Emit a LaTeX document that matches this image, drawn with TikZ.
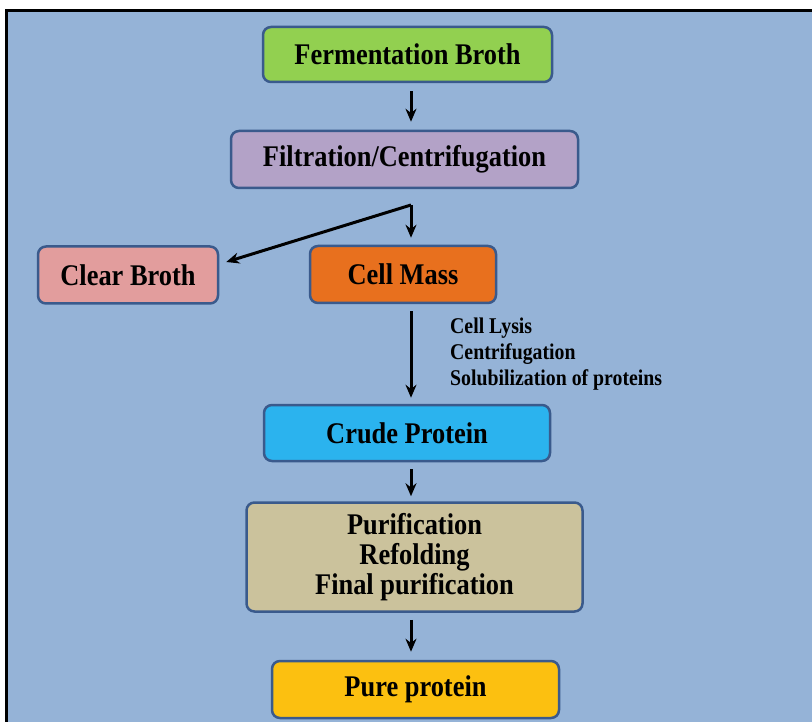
\documentclass[tikz,border=0pt]{standalone}
\usepackage{fontspec}
\setmainfont{Liberation Serif}[FakeStretch=0.88]
\usetikzlibrary{arrows.meta}
\definecolor{bgblue}{HTML}{95B3D7}
\definecolor{bordc}{HTML}{3A5A8C}
\definecolor{cgreen}{HTML}{92D050}
\definecolor{clilac}{HTML}{B3A2C7}
\definecolor{cpink}{HTML}{E29D9D}
\definecolor{corange}{HTML}{E8701E}
\definecolor{ccyan}{HTML}{2BB3EE}
\definecolor{ctan}{HTML}{CBC29C}
\definecolor{cyellow}{HTML}{FCC010}
\tikzset{
  box/.style={draw=bordc, line width=2.5pt, rounded corners=8pt, inner sep=0pt,
    font=\fontsize{30}{30}\selectfont\bfseries, text=black, align=center},
  arr/.style={draw=black, line width=3pt, -{Stealth[length=13pt,width=11pt]}},
  lbl/.style={font=\fontsize{22.5}{26}\selectfont\bfseries, align=left, inner sep=0pt, text=black}
}
\begin{document}
\begin{tikzpicture}[x=1pt,y=-1pt]
\useasboundingbox (0,0) rectangle (812,722);
\fill[white] (0,0) rectangle (812,722);
\fill[bgblue] (6,11) rectangle (812,722);
\draw[black, line width=3pt] (6,722) -- (6,11) -- (812,11);

\node[box, fill=cgreen, minimum width=289pt, minimum height=55pt] (fb) at (407.5,54.5) {Fermentation Broth};
\node[box, fill=clilac, minimum width=347pt, minimum height=57pt] (fil) at (404.5,159.5) {Filtration/Centrifugation};
\node[box, fill=cpink, minimum width=180pt, minimum height=57pt] (cb) at (128,275) {Clear Broth};
\node[box, fill=corange, minimum width=186pt, minimum height=57pt] (cm) at (403,274.5) {Cell Mass};
\node[box, fill=ccyan, minimum width=286pt, minimum height=56pt] (cp) at (407,433) {Crude Protein};
\node[box, fill=ctan, minimum width=336pt, minimum height=109pt] (pu) at (414.5,557) {Purification\\Refolding\\Final purification};
\node[box, fill=cyellow, minimum width=287pt, minimum height=57pt] (pp) at (415.5,689.5) {Pure protein};

\node[lbl, anchor=north west] (steps) at (450,318) {Cell Lysis\\Centrifugation\\Solubilization of proteins};

\coordinate (v) at (411,205);
\draw[arr] ([yshift=-8pt]fb.south -| v) -- ([yshift=8pt]fil.north -| v);
\draw[arr] (v) -- ([yshift=7pt]cm.north -| v);
\draw[arr] (v) -- ([xshift=7pt,yshift=13pt]cb.east);
\draw[arr] ([yshift=-7pt]cm.south -| v) -- ([yshift=6pt]cp.north -| v);
\draw[arr] ([yshift=-7pt]cp.south -| v) -- ([yshift=5pt]pu.north -| v);
\draw[arr] ([yshift=-7pt]pu.south -| v) -- ([yshift=8pt]pp.north -| v);
\end{tikzpicture}
\end{document}
